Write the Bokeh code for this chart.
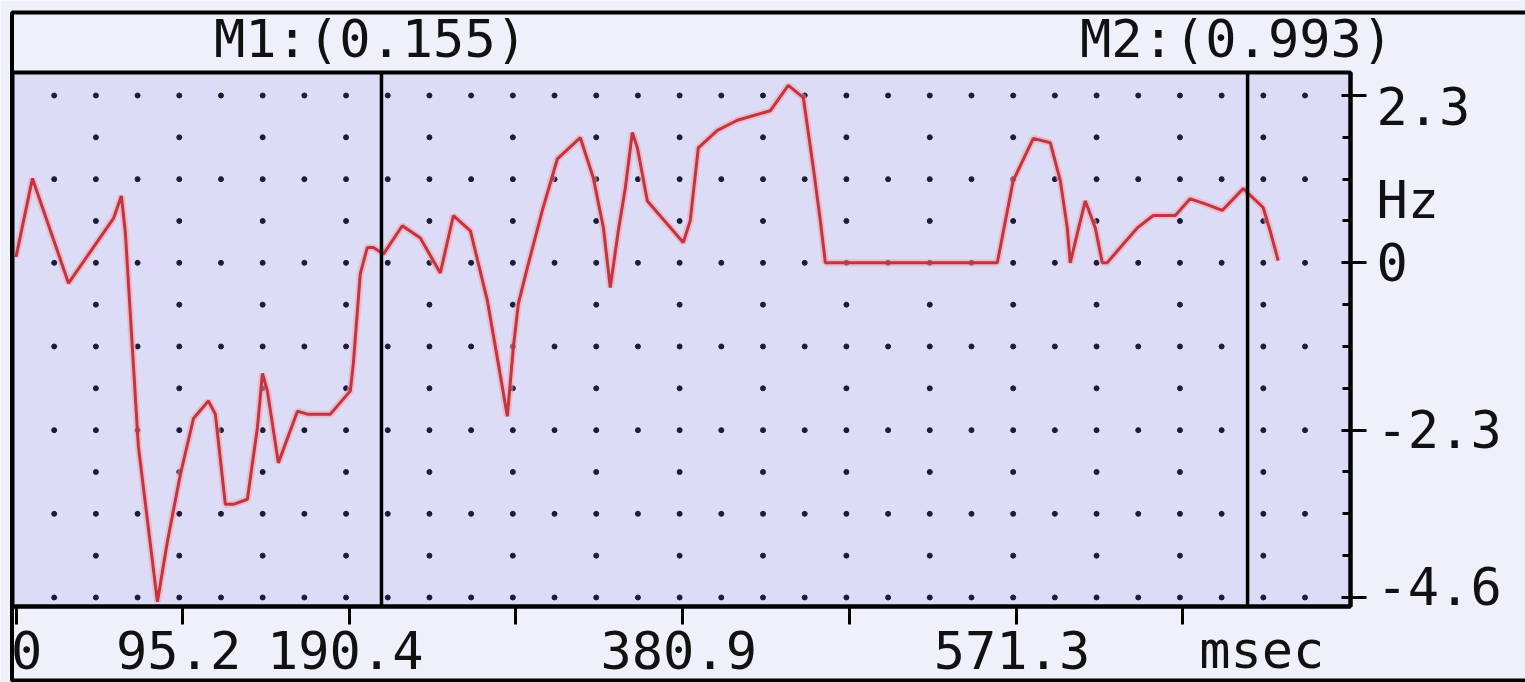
import numpy as np
from bokeh.plotting import figure
from bokeh.models import (Range1d, FixedTicker, Label, BoxAnnotation,
                          CustomJSTickFormatter, LinearAxis)
from bokeh.embed import file_html
from bokeh.resources import INLINE

# ---------------- data ----------------
t_ms = [0, 9.4, 30.0, 55.7, 60.2, 62.5, 69.9, 80.8, 86.5, 93.9,
        101.4, 109.9, 113.9, 119.6, 124.2, 132.2, 137.9, 140.8, 143.6, 149.9,
        160.8, 166.5, 179.6, 191.0, 192.7, 196.7, 200.7, 204.2, 209.9, 220.7,
        231.0, 242.4, 249.9, 259.6, 269.3, 275.0, 280.7, 284.1, 287.0, 292.1,
        300.7, 309.3, 322.4, 329.8, 335.6, 339.5, 344.1, 348.1, 352.1, 355.0,
        360.7, 381.2, 385.2, 389.8, 400.7, 412.1, 430.9, 441.2, 449.8, 455.5,
        459.5, 462.4, 560.6, 569.7, 581.2, 590.9, 596.6, 600.6, 602.3, 606.3,
        610.9, 616.6, 620.6, 623.4, 632.6, 640.6, 649.7, 662.3, 670.8, 679.4,
        689.1, 701.1, 712.5, 716.5, 721.1]
hz = [0.08, 1.16, -0.28, 0.61, 0.92, 0.41, -2.52, -4.66, -3.83, -2.91,
      -2.14, -1.90, -2.08, -3.32, -3.32, -3.25, -2.27, -1.52, -1.76, -2.75,
      -2.04, -2.08, -2.08, -1.76, -1.39, -0.15, 0.21, 0.21, 0.12, 0.51,
      0.34, -0.14, 0.65, 0.44, -0.52, -1.31, -2.11, -1.17, -0.56, -0.07,
      0.72, 1.43, 1.72, 1.17, 0.48, -0.34, 0.44, 1.03, 1.79, 1.58,
      0.85, 0.28, 0.58, 1.58, 1.82, 1.96, 2.09, 2.44, 2.27, 1.31,
      0.58, 0.0, 0.0, 1.13, 1.71, 1.65, 1.13, 0.48, 0.0, 0.40,
      0.85, 0.48, 0.0, 0.0, 0.26, 0.48, 0.65, 0.65, 0.88, 0.81,
      0.72, 1.02, 0.76, 0.44, 0.03]

x_ticks = [0, 95.2, 190.4, 285.6, 380.9, 476.1, 571.3, 666.5]
x_tick_labels = ["0", "95.2", "190.4", "", "380.9", "", "571.3", ""]
y_ticks = [2.3, 0, -2.3, -4.6]
y_tick_labels = ["2.3", "0", "-2.3", "-4.6"]
y_minor_step = 0.575
marker_t = [208.8, 703.6]
marker_labels = ["M1:(0.155)", "M2:(0.993)"]
x_unit = "msec"
x_unit_pos = 711.7
y_unit = "Hz"
y_unit_pos = 0.6

x_lo, x_hi = -2.0, 762.4
y_lo, y_hi = -4.724, 2.616

# ---------------- layout / styles ----------------
W, H = 1525, 682
box_l, box_r, box_t, box_b = 12, 1350, 72, 606   # plot box in canvas pixels
FONT = "DejaVu Sans Mono"
FS = "52px"
TXT = "#111111"
FRAME_BG = "#dcdcf7"
OUTER_BG = "#eff0fa"
LINE_C = "#c33440"
DOT_C = "#1c1c3a"
dot_step_x = 23.82
BASE_SHIFT = 19                      # baseline correction for the font box
y_label_offsets = [-30, -18, -18, -8]
x_label_offset = -62

sx = (box_r - box_l) / (x_hi - x_lo)
sy = (box_b - box_t) / (y_hi - y_lo)
x_range = Range1d(x_lo - box_l / sx, x_hi + (W - box_r) / sx)
y_range = Range1d(y_lo - (H - box_b) / sy, y_hi + box_t / sy)

p = figure(width=W, height=H, x_range=x_range, y_range=y_range,
           output_backend="svg", toolbar_location=None,
           x_axis_location=None, y_axis_location=None,
           min_border_left=0, min_border_right=0,
           min_border_top=0, min_border_bottom=0)
p.background_fill_color = OUTER_BG
p.border_fill_color = OUTER_BG
p.outline_line_color = None
p.xgrid.visible = False
p.ygrid.visible = False

# plot box background (under glyphs)
p.add_layout(BoxAnnotation(left=x_lo, right=x_hi, bottom=y_lo, top=y_hi,
                           fill_color=FRAME_BG, fill_alpha=1, line_color=None,
                           level="underlay"))

empty = CustomJSTickFormatter(code="return ''")

xa = LinearAxis(fixed_location=y_lo, bounds=(x_lo, x_hi),
                ticker=FixedTicker(ticks=x_ticks, minor_ticks=[]), formatter=empty)
xa.major_label_text_font_size = "8px"
xa.major_tick_in = 0
xa.major_tick_out = 18
xa.minor_tick_in = 0
xa.minor_tick_out = 0
xa.major_tick_line_width = 3
xa.major_tick_line_color = "black"
xa.axis_line_width = 4
xa.axis_line_color = "black"
p.add_layout(xa, "below")

minor = list(np.round(np.arange(y_ticks[-1], y_ticks[0] + 1e-9, y_minor_step), 4))
ya = LinearAxis(fixed_location=x_hi, bounds=(y_lo, y_hi),
                ticker=FixedTicker(ticks=y_ticks, minor_ticks=minor), formatter=empty)
ya.major_label_text_font_size = "8px"
ya.major_tick_in = 9
ya.major_tick_out = 16
ya.minor_tick_in = 8
ya.minor_tick_out = 0
ya.major_tick_line_width = 3
ya.minor_tick_line_width = 3
ya.major_tick_line_color = "black"
ya.minor_tick_line_color = "black"
ya.axis_line_width = 4
ya.axis_line_color = "black"
p.add_layout(ya, "right")

# dotted grid
rows_all = np.arange(y_ticks[-1], y_ticks[0] + 1e-9, y_minor_step)
dx, dy = [], []
for k in range(1, 32):
    cx = x_lo + dot_step_x * k
    rows = rows_all if k % 2 == 0 else rows_all[::2]
    for r in rows:
        dx.append(cx)
        dy.append(r)
p.scatter(dx, dy, size=5, marker="circle", color=DOT_C)

# data line
p.line(t_ms, hz, line_color="#f3a3a8", line_width=7, line_alpha=0.55)
p.line(t_ms, hz, line_color=LINE_C, line_width=3)

# markers
p.segment(x0=marker_t, y0=[y_lo] * len(marker_t), x1=marker_t, y1=[y_hi] * len(marker_t),
          line_color="black", line_width=3.5)
for mt, ml in zip(marker_t, marker_labels):
    p.add_layout(Label(x=mt, y=y_hi, y_offset=15 + BASE_SHIFT, text=ml, x_offset=-11,
                       text_align="center", text_baseline="alphabetic",
                       text_font=FONT, text_font_size=FS, text_color=TXT))

# plot box outline (above glyphs)
p.add_layout(BoxAnnotation(left=x_lo, right=x_hi, bottom=y_lo, top=y_hi,
                           fill_color=None, fill_alpha=0,
                           line_color="black", line_width=4, line_alpha=1))

# bottom tick labels
for xv, lab in zip(x_ticks, x_tick_labels):
    if not lab:
        continue
    first = xv == x_ticks[0]
    p.add_layout(Label(x=xv, y=y_lo, y_offset=x_label_offset + BASE_SHIFT, text=lab,
                       x_offset=-5 if first else -4,
                       text_align="left" if first else "center",
                       text_baseline="alphabetic",
                       text_font=FONT, text_font_size=FS, text_color=TXT))
p.add_layout(Label(x=x_unit_pos, y=y_lo, y_offset=x_label_offset + BASE_SHIFT, text=x_unit,
                   text_align="center", text_baseline="alphabetic",
                   text_font=FONT, text_font_size=FS, text_color=TXT))

# right tick labels
for yv, lab, off in zip(y_ticks, y_tick_labels, y_label_offsets):
    p.add_layout(Label(x=x_hi, x_offset=26, y=yv, y_offset=off + BASE_SHIFT, text=lab,
                       text_align="left", text_baseline="alphabetic",
                       text_font=FONT, text_font_size=FS, text_color=TXT))
p.add_layout(Label(x=x_hi, x_offset=26, y=y_unit_pos, y_offset=BASE_SHIFT, text=y_unit,
                   text_align="left", text_baseline="alphabetic",
                   text_font=FONT, text_font_size=FS, text_color=TXT))

# outer border (screen units: x from left, y from bottom)
p.add_layout(BoxAnnotation(left=11.5, right=W + 20, top=H - 12, bottom=2,
                           left_units="screen", right_units="screen",
                           top_units="screen", bottom_units="screen",
                           fill_color=None, fill_alpha=0,
                           line_color="black", line_width=4, line_alpha=1))

open("out.html", "w").write(file_html(p, INLINE))
